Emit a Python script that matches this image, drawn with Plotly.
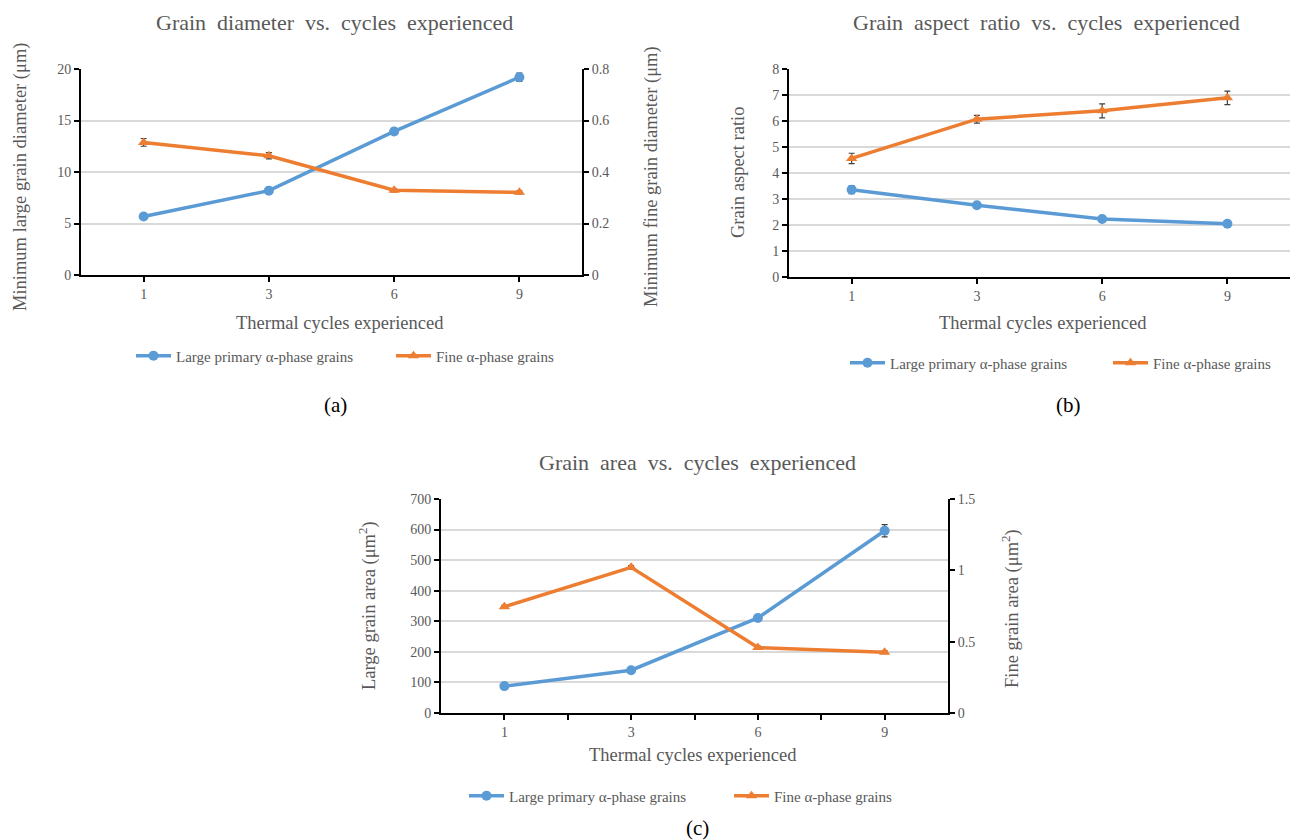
import plotly.graph_objects as go

# ---------------- data ----------------
cycles = ["1", "3", "6", "9"]

# (a) grain diameter
large_diam = [5.68, 8.19, 13.94, 19.2]
large_diam_err = [0.25, 0.15, 0.3, 0.4]
fine_diam = [0.515, 0.463, 0.329, 0.321]
fine_diam_err = [0.015, 0.012, 0.006, 0.006]

# (b) aspect ratio
large_ar = [3.36, 2.76, 2.23, 2.05]
large_ar_err = [0.15, 0.05, 0.05, 0.05]
fine_ar = [4.56, 6.07, 6.39, 6.89]
fine_ar_err = [0.2, 0.15, 0.27, 0.26]

# (c) grain area
large_area = [88, 140, 311, 596]
large_area_err = [4, 5, 10, 20]
fine_area = [0.745, 1.021, 0.459, 0.426]
fine_area_err = [0.01, 0.012, 0.01, 0.01]

series_names = ["Large primary α-phase grains", "Fine α-phase grains"]

BLUE = "#5B9BD5"
ORANGE = "#ED7D31"
GREY = "#595959"
FONT = "Liberation Serif"
W, H = 1290, 840

idx = list(range(len(cycles)))


def px(x):
    return x / W


def py(y):
    return 1 - y / H


fig = go.Figure()


def add_pair(xa, ya_large, ya_fine, large, lerr, fine, ferr, leg_l, leg_f):
    fig.add_trace(go.Scatter(
        x=idx, y=large, xaxis=xa, yaxis=ya_large, name=series_names[0],
        mode="lines+markers", line=dict(color=BLUE, width=3.5),
        marker=dict(symbol="circle", size=10, color=BLUE),
        error_y=dict(type="data", array=lerr, color="#404040", thickness=1.2, width=3),
        legend=leg_l, showlegend=True))
    fig.add_trace(go.Scatter(
        x=idx, y=fine, xaxis=xa, yaxis=ya_fine, name=series_names[1],
        mode="lines+markers", line=dict(color=ORANGE, width=3.5),
        marker=dict(symbol="triangle-up", size=10, color=ORANGE),
        error_y=dict(type="data", array=ferr, color="#404040", thickness=1.2, width=3),
        legend=leg_f, showlegend=True))


add_pair("x", "y", "y2", large_diam, large_diam_err, fine_diam, fine_diam_err, "legend", "legend2")
add_pair("x2", "y3", "y3", large_ar, large_ar_err, fine_ar, fine_ar_err, "legend3", "legend4")
add_pair("x3", "y4", "y5", large_area, large_area_err, fine_area, fine_area_err, "legend5", "legend6")

tickfont = dict(family=FONT, size=14, color=GREY)


def xax(domain, anchor, minor=False):
    d = dict(domain=domain, anchor=anchor, range=[-0.5, len(cycles) - 0.5],
             tickmode="array", tickvals=idx, ticktext=cycles,
             showline=True, linecolor="black", linewidth=2,
             ticks="outside", ticklen=5, tickwidth=2, tickcolor="black",
             showgrid=False, zeroline=False, tickfont=tickfont, fixedrange=True)
    if minor:
        d["minor"] = dict(tickmode="array", tickvals=[i + 0.5 for i in idx[:-1]],
                          ticks="outside", ticklen=5, tickwidth=2, tickcolor="black",
                          showgrid=False)
    return d


def yax(domain, anchor, rng, dtick, side="left", overlaying=None, grid=True):
    d = dict(domain=domain, anchor=anchor, range=rng, dtick=dtick, side=side,
             showline=True, linecolor="black", linewidth=2,
             ticks="outside", ticklen=5, tickwidth=2, tickcolor="black",
             showgrid=grid, gridcolor="#D9D9D9", gridwidth=1.5, zeroline=False,
             tickfont=tickfont, fixedrange=True)
    if overlaying:
        d["overlaying"] = overlaying
    return d


layout = dict(
    width=W, height=H, margin=dict(l=0, r=0, t=0, b=0, autoexpand=False),
    paper_bgcolor="white", plot_bgcolor="white",
    font=dict(family=FONT, color=GREY),
    xaxis=xax([px(81), px(582)], "y"),
    yaxis=yax([py(275), py(69)], "x", [0, 20], 5),
    yaxis2=yax([py(275), py(69)], "x", [0, 0.8], 0.2, side="right", overlaying="y", grid=False),
    xaxis2=xax([px(789), px(1290)], "y3"),
    yaxis3=yax([py(277), py(69)], "x2", [0, 8], 1),
    xaxis3=xax([px(441), px(948)], "y4", minor=True),
    yaxis4=yax([py(713), py(499)], "x3", [0, 700], 100),
    yaxis5=yax([py(713), py(499)], "x3", [0, 1.5], 0.5, side="right", overlaying="y4", grid=False),
)

leg_common = dict(orientation="h", font=dict(family=FONT, size=15, color=GREY),
                  bgcolor="rgba(0,0,0,0)", borderwidth=0, xanchor="left", yanchor="middle",
                  itemwidth=35)
# legend line-start positions (px) and vertical centres
leg_pos = [(138, 356), (398, 356), (852, 363), (1115, 363), (471, 796), (736, 796)]
for i, (lx, ly) in enumerate(leg_pos):
    key = "legend" if i == 0 else f"legend{i + 1}"
    layout[key] = dict(leg_common, x=px(lx - 7), y=py(ly))

fig.update_layout(**layout)

ann = []


def text(x, y, s, size, angle=0, color=GREY):
    ann.append(dict(x=px(x), y=py(y), xref="paper", yref="paper", text=s, showarrow=False,
                    textangle=angle, xanchor="center", yanchor="middle",
                    font=dict(family=FONT, size=size, color=color)))


# titles
text(334, 22, "Grain  diameter  vs.  cycles  experienced", 22)
text(1046, 22, "Grain  aspect  ratio  vs.  cycles  experienced", 22)
text(697, 462, "Grain  area  vs.  cycles  experienced", 22)
# x titles
text(340, 323, "Thermal cycles experienced", 18.5)
text(1043, 323, "Thermal cycles experienced", 18.5)
text(693, 755, "Thermal cycles experienced", 18.5)
# y titles
text(20, 177, "Minimum large grain diameter (μm)", 18.5, -90)
text(651, 177, "Minimum fine grain diameter (μm)", 18.5, -90)
text(738, 172, "Grain aspect ratio", 18.5, -90)
text(367, 606, "Large grain area (μm<sup>2</sup>)", 18.5, -90)
text(1010, 608, "Fine grain area (μm<sup>2</sup>)", 18.5, -90)
# panel labels
text(335, 405, "(a)", 21, color="black")
text(1068, 405, "(b)", 21, color="black")
text(697, 828, "(c)", 21, color="black")

fig.update_layout(annotations=ann)

fig.write_html("out.html")
